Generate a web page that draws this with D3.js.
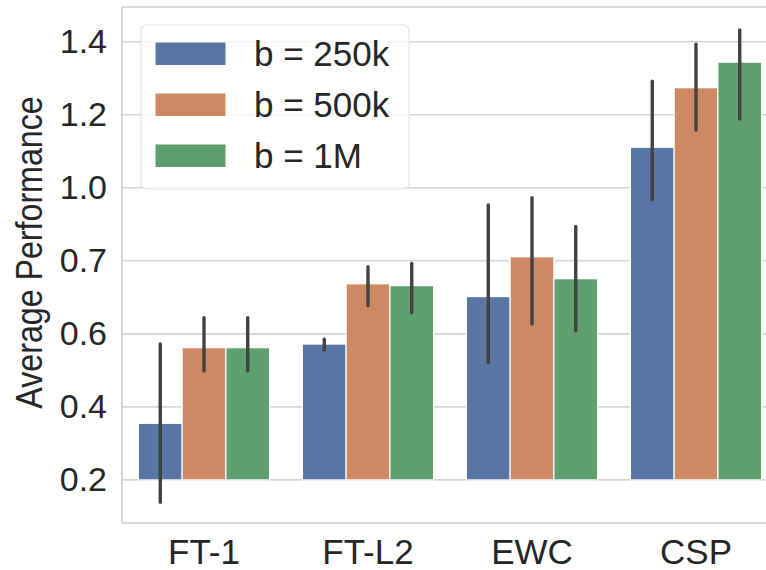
<!DOCTYPE html>
<html>
<head>
<meta charset="utf-8">
<script src="https://cdnjs.cloudflare.com/ajax/libs/d3/7.8.5/d3.min.js"></script>
<style>
  body { margin: 0; background: #fff; }
  svg text { font-family: "Liberation Sans", Arial, sans-serif; fill: #262626; }
</style>
</head>
<body>
<svg width="766" height="570"></svg>
<script>
// Data
var categories = ["FT-1", "FT-L2", "EWC", "CSP"];
var seriesNames = ["b = 250k", "b = 500k", "b = 1M"];
var seriesColors = ["#5975a4", "#cc8963", "#5f9e6e"];
// bar heights, one array per series (in axis units)
var values250k = [0.355, 0.572, 0.702, 1.111];
var values500k = [0.562, 0.737, 0.811, 1.274];
var values1M = [0.562, 0.732, 0.751, 1.344];
// error bar low / high
var low250k = [0.139, 0.556, 0.520, 0.967];
var high250k = [0.572, 0.585, 0.953, 1.292];
var low500k = [0.498, 0.677, 0.627, 1.158];
var high500k = [0.644, 0.784, 0.973, 1.393];
var low1M = [0.498, 0.658, 0.608, 1.188];
var high1M = [0.644, 0.793, 0.894, 1.432];
// tick positions and their labels as printed
var tickValues = [0.2, 0.4, 0.6, 0.8, 1.0, 1.2, 1.4];
var tickLabels = ["0.2", "0.4", "0.6", "0.7", "1.0", "1.2", "1.4"];
var baseline = 0.2;

var svg = d3.select("svg"),
  margin = { left: 122, top: 7, bottom: 523, right: 778 },
  values = [values250k, values500k, values1M],
  lows = [low250k, low500k, low1M],
  highs = [high250k, high500k, high1M];

// scales
var x = d3.scaleBand().domain(categories).range([margin.left, margin.right]).padding(0);
var inner = d3.scaleBand()
  .domain(d3.range(seriesNames.length))
  .range([x.bandwidth() * 0.1, x.bandwidth() * 0.9]);
var y = d3.scaleLinear().domain([0.082, 1.495]).range([margin.bottom, margin.top]);

// horizontal grid lines
var yAxis = d3.axisLeft(y)
  .tickValues(tickValues)
  .tickFormat(function (d, i) { return tickLabels[i]; })
  .tickSize(0)
  .tickPadding(15);

svg.append("g")
  .attr("class", "grid")
  .selectAll("line")
  .data(tickValues)
  .enter()
  .append("line")
  .attr("x1", margin.left)
  .attr("x2", 766)
  .attr("y1", function (d) { return y(d); })
  .attr("y2", function (d) { return y(d); })
  .attr("stroke", "#d6d6d6")
  .attr("stroke-width", 1.6);

// bars
var rows = [];
categories.forEach(function (c, ci) {
  seriesNames.forEach(function (s, si) {
    rows.push({ cat: c, s: si, v: values[si][ci], lo: lows[si][ci], hi: highs[si][ci] });
  });
});

svg.append("g")
  .selectAll("rect")
  .data(rows)
  .enter()
  .append("rect")
  .attr("x", function (d) { return x(d.cat) + inner(d.s); })
  .attr("width", inner.bandwidth())
  .attr("y", function (d) { return y(d.v); })
  .attr("height", function (d) { return y(baseline) - y(d.v); })
  .attr("fill", function (d) { return seriesColors[d.s]; })
  .attr("stroke", "#fff")
  .attr("stroke-width", 1.2);

// error bars
svg.append("g")
  .selectAll("line")
  .data(rows)
  .enter()
  .append("line")
  .attr("x1", function (d) { return x(d.cat) + inner(d.s) + inner.bandwidth() / 2; })
  .attr("x2", function (d) { return x(d.cat) + inner(d.s) + inner.bandwidth() / 2; })
  .attr("y1", function (d) { return y(d.lo); })
  .attr("y2", function (d) { return y(d.hi); })
  .attr("stroke", "#424242")
  .attr("stroke-width", 3.4)
  .attr("stroke-linecap", "round");

// spines (left, top, bottom)
var spine = svg.append("g").attr("stroke", "#cccccc").attr("stroke-width", 1.6);
spine.append("line").attr("x1", margin.left).attr("x2", margin.left).attr("y1", margin.top).attr("y2", margin.bottom);
spine.append("line").attr("x1", margin.left).attr("x2", 766).attr("y1", margin.top).attr("y2", margin.top);
spine.append("line").attr("x1", margin.left).attr("x2", 766).attr("y1", margin.bottom).attr("y2", margin.bottom);

// y axis labels
var gy = svg.append("g")
  .attr("transform", "translate(" + margin.left + ",0)")
  .call(yAxis);
gy.select(".domain").remove();
gy.selectAll("text").attr("font-size", 34).attr("fill", "#262626")
  .style("font-family", "'Liberation Sans', Arial, sans-serif");

// x axis labels
var gx = svg.append("g")
  .attr("transform", "translate(0," + margin.bottom + ")")
  .call(d3.axisBottom(x).tickSize(0).tickPadding(16));
gx.select(".domain").remove();
gx.selectAll("text").attr("font-size", 35).attr("fill", "#262626")
  .style("font-family", "'Liberation Sans', Arial, sans-serif");

// y axis title (glyphs look a bit compressed along the text in the original)
svg.append("text")
  .attr("transform", "translate(42,252.5) rotate(-90) scale(0.87,1)")
  .attr("text-anchor", "middle")
  .attr("font-size", 37)
  .text("Average Performance");

// legend
var legend = svg.append("g").attr("transform", "translate(141,25)");
legend.append("rect")
  .attr("width", 268)
  .attr("height", 164)
  .attr("rx", 5)
  .attr("fill", "#fff")
  .attr("fill-opacity", 0.8)
  .attr("stroke", "#e3e3e3")
  .attr("stroke-width", 1.2);

var item = legend.selectAll(".item")
  .data(seriesNames)
  .enter()
  .append("g")
  .attr("class", "item")
  .attr("transform", function (d, i) { return "translate(0," + (i * 51) + ")"; });

item.append("rect")
  .attr("x", 14)
  .attr("y", 17)
  .attr("width", 71)
  .attr("height", 23.5)
  .attr("fill", function (d, i) { return seriesColors[i]; })
  .attr("stroke", "#fff")
  .attr("stroke-width", 1);

item.append("text")
  .attr("x", 113)
  .attr("y", 41)
  .attr("font-size", 35)
  .text(function (d) { return d; });
</script>
</body>
</html>
